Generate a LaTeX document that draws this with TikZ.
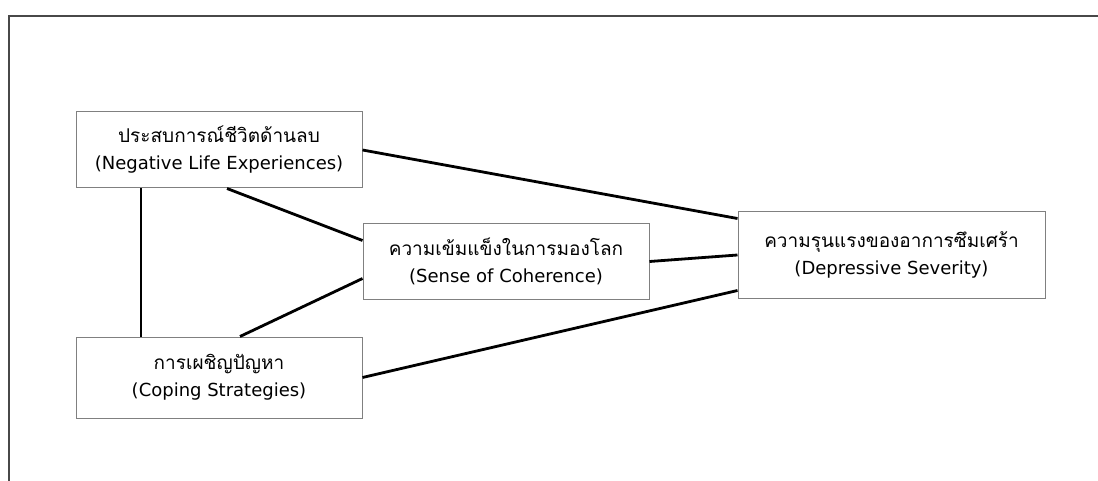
\documentclass[tikz,border=0pt]{standalone}
\usepackage{fontspec}
\newfontfamily\thaifont[Script=Thai]{Loma}
\newfontfamily\latfont{DejaVu Sans}
\definecolor{boxline}{RGB}{128,128,128}
\definecolor{frameline}{RGB}{72,72,72}
\newcommand{\twolines}[2]{{\thaifont #1}\\{\latfont\fontsize{18}{27}\selectfont #2}}
\usetikzlibrary{positioning}

\begin{document}
\begin{tikzpicture}[x=1pt,y=-1pt,
            box/.style={draw=boxline, line width=1pt, minimum width=286pt,
                        minimum height=76pt, inner sep=0pt, align=center,
                        font=\fontsize{19}{27}\selectfont},
            link/.style={black, line width=2.8pt}
          ]
            \useasboundingbox (0,0) rectangle (1098,481);
            \draw[frameline, line width=2pt] (1098,16) -- (9,16) -- (9,481);
            \node[box] (nle) at (219,150) {\twolines{ประสบการณ์ชีวิตด้านลบ}{(Negative Life Experiences)}};
            \node[box, minimum height=81pt] (cop) [below=148pt of nle] {\twolines{การเผชิญปัญหา}{(Coping Strategies)}};
            \node[box, minimum height=75pt] (soc) at (506,261.5) {\twolines{ความเข้มแข็งในการมองโลก}{(Sense of Coherence)}};
            \node[box, minimum width=307pt, minimum height=86pt] (ds) at (891.5,255) {\twolines{ความรุนแรงของอาการซึมเศร้า}{(Depressive Severity)}};
            \draw[link] (nle.east) -- ([yshift=-7pt]ds.north west);
            \draw[link] ([xshift=8pt]nle.south) -- ([yshift=-17pt]soc.north west);
            \draw[link] ([xshift=21pt]cop.north) -- ([yshift=21pt]soc.south west);
            \draw[link] (soc.east) -- (ds.west);
            \draw[link] (cop.east) -- ([yshift=8pt]ds.south west);
            \draw[link] ([xshift=-78pt]nle.south) -- ([xshift=-78pt]cop.north);
          \end{tikzpicture}
\end{document}
